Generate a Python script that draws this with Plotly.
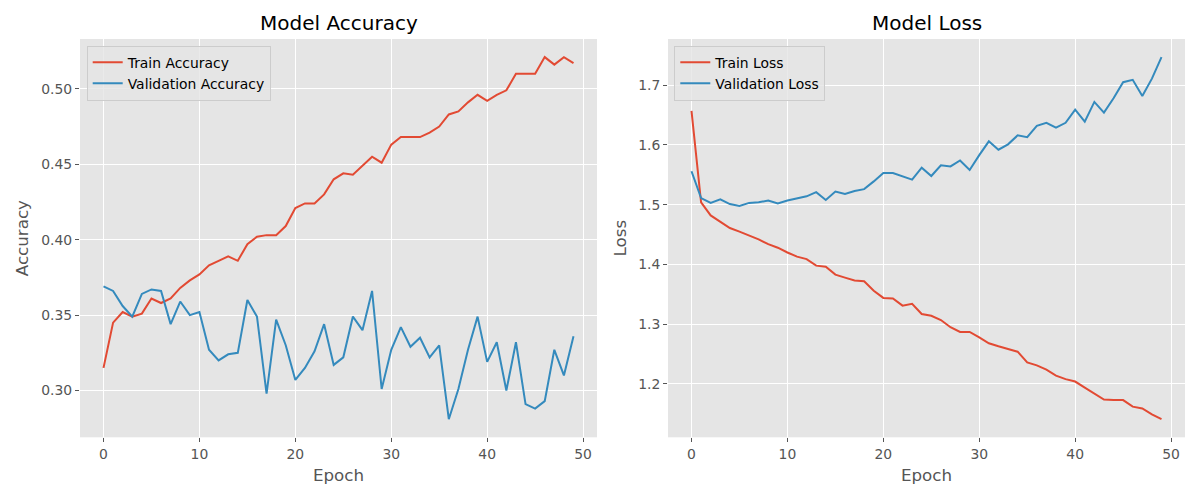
import plotly.graph_objects as go

epochs = list(range(50))

train_acc = [0.315, 0.345, 0.352, 0.349, 0.351, 0.361, 0.358, 0.361, 0.368, 0.373,
             0.377, 0.383, 0.386, 0.389, 0.386, 0.397, 0.402, 0.403, 0.403, 0.409,
             0.421, 0.424, 0.424, 0.430, 0.440, 0.444, 0.443, 0.449, 0.455, 0.451,
             0.463, 0.468, 0.468, 0.468, 0.471, 0.475, 0.483, 0.485, 0.491, 0.496,
             0.492, 0.496, 0.499, 0.510, 0.510, 0.510, 0.521, 0.516, 0.521, 0.517]
val_acc = [0.369, 0.366, 0.356, 0.349, 0.364, 0.367, 0.366, 0.344, 0.359, 0.350,
           0.352, 0.327, 0.320, 0.324, 0.325, 0.360, 0.349, 0.298, 0.347, 0.330,
           0.307, 0.315, 0.326, 0.344, 0.317, 0.322, 0.349, 0.340, 0.366, 0.301,
           0.327, 0.342, 0.329, 0.335, 0.322, 0.330, 0.281, 0.301, 0.327, 0.349,
           0.319, 0.332, 0.300, 0.332, 0.291, 0.288, 0.293, 0.327, 0.310, 0.336]
train_loss = [1.657, 1.504, 1.482, 1.471, 1.461, 1.455, 1.449, 1.442, 1.434, 1.428,
              1.420, 1.413, 1.409, 1.398, 1.396, 1.383, 1.378, 1.373, 1.372, 1.356,
              1.344, 1.343, 1.331, 1.334, 1.317, 1.314, 1.307, 1.295, 1.287, 1.287,
              1.278, 1.268, 1.263, 1.258, 1.254, 1.236, 1.231, 1.224, 1.214, 1.208,
              1.204, 1.194, 1.184, 1.174, 1.173, 1.173, 1.162, 1.159, 1.149, 1.141]
val_loss = [1.556, 1.511, 1.503, 1.509, 1.501, 1.498, 1.503, 1.504, 1.507, 1.502,
            1.507, 1.510, 1.514, 1.521, 1.508, 1.522, 1.518, 1.523, 1.526, 1.539,
            1.553, 1.553, 1.548, 1.542, 1.562, 1.548, 1.566, 1.564, 1.574, 1.558,
            1.583, 1.606, 1.592, 1.601, 1.616, 1.613, 1.632, 1.637, 1.629, 1.637,
            1.659, 1.639, 1.672, 1.654, 1.678, 1.705, 1.709, 1.682, 1.711, 1.747]

RED = "#E24A33"
BLUE = "#348ABD"
FONT = "DejaVu Sans"
GREY = "#555555"

# the page body has an 8px margin, so the figure is a bit smaller than the window
W, H = 1192, 492


def padded(vals, frac=0.05):
    lo, hi = min(vals), max(vals)
    p = (hi - lo) * frac
    return [lo - p, hi + p]


fig = go.Figure()
fig.add_trace(go.Scatter(x=epochs, y=train_acc, mode="lines", name="Train Accuracy",
                         line=dict(color=RED, width=2), xaxis="x", yaxis="y", legend="legend"))
fig.add_trace(go.Scatter(x=epochs, y=val_acc, mode="lines", name="Validation Accuracy",
                         line=dict(color=BLUE, width=2), xaxis="x", yaxis="y", legend="legend"))
fig.add_trace(go.Scatter(x=epochs, y=train_loss, mode="lines", name="Train Loss",
                         line=dict(color=RED, width=2), xaxis="x2", yaxis="y2", legend="legend2"))
fig.add_trace(go.Scatter(x=epochs, y=val_loss, mode="lines", name="Validation Loss",
                         line=dict(color=BLUE, width=2), xaxis="x2", yaxis="y2", legend="legend2"))

axis_common = dict(
    showgrid=True, gridcolor="white", gridwidth=1.2, zeroline=False,
    ticks="outside", ticklen=4, tickcolor=GREY, tickwidth=1,
    tickfont=dict(family=FONT, size=13.9, color=GREY),
    showline=False, automargin=False,
)
xr = padded(epochs)
left_dom = [72 / W, 589 / W]
right_dom = [660 / W, 1177 / W]
ydom = [(H - 429.3) / H, (H - 31) / H]
legend_style = dict(xanchor="left", yanchor="top", y=(H - 37.7) / H,
                    bgcolor="rgba(229,229,229,0.8)", bordercolor="#cccccc", borderwidth=1,
                    font=dict(family=FONT, size=13.9, color="black"))

fig.update_layout(
    width=W, height=H,
    margin=dict(l=0, r=0, t=0, b=0),
    paper_bgcolor="white", plot_bgcolor="#E5E5E5",
    font=dict(family=FONT, color=GREY),
    xaxis=dict(domain=left_dom, range=xr, dtick=10, anchor="y",
               title=dict(text="Epoch", font=dict(size=16.7, color=GREY), standoff=8),
               **axis_common),
    yaxis=dict(domain=ydom, range=padded(train_acc + val_acc), dtick=0.05, tickformat=".2f",
               anchor="x",
               title=dict(text="Accuracy", font=dict(size=16.7, color=GREY), standoff=8),
               **axis_common),
    xaxis2=dict(domain=right_dom, range=xr, dtick=10, anchor="y2",
                title=dict(text="Epoch", font=dict(size=16.7, color=GREY), standoff=8),
                **axis_common),
    yaxis2=dict(domain=ydom, range=padded(train_loss + val_loss), dtick=0.1, tickformat=".1f",
                anchor="x2",
                title=dict(text="Loss", font=dict(size=16.7, color=GREY), standoff=7),
                **axis_common),
    legend=dict(x=78.7 / W, **legend_style),
    legend2=dict(x=666.3 / W, **legend_style),
    annotations=[
        dict(text="Model Accuracy", x=sum(left_dom) / 2, y=(H - 15) / H, xref="paper", yref="paper",
             showarrow=False, xanchor="center", yanchor="middle",
             font=dict(family=FONT, size=20, color="black")),
        dict(text="Model Loss", x=sum(right_dom) / 2, y=(H - 15) / H, xref="paper", yref="paper",
             showarrow=False, xanchor="center", yanchor="middle",
             font=dict(family=FONT, size=20, color="black")),
    ],
)

fig.write_html("out.html")
